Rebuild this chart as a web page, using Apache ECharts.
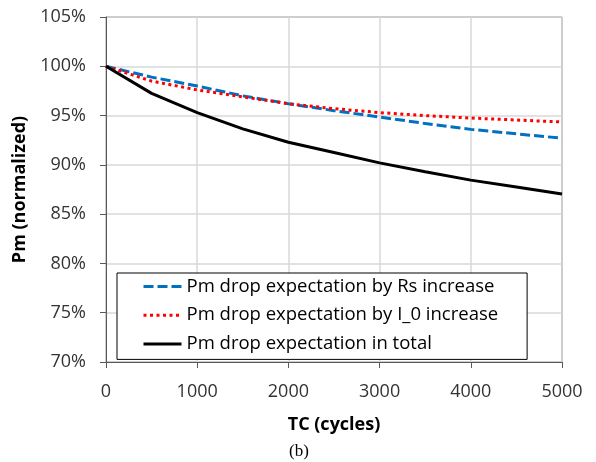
<!DOCTYPE html>
<html>
<head>
<meta charset="utf-8">
<script src="https://cdn.jsdelivr.net/npm/echarts@6/dist/echarts.min.js"></script>
<style>
  html, body { margin: 0; padding: 0; background: #fff; }
  #main { width: 596px; height: 462px; }
</style>
</head>
<body>
<div id="main"></div>
<script>
// TC cycles
var cycles = [0, 500, 1000, 1500, 2000, 2500, 3000, 3500, 4000, 4500, 5000];
// Pm normalized, %
var byRs = [100, 98.9, 98.0, 97.0, 96.2, 95.5, 94.85, 94.2, 93.6, 93.15, 92.7];
var byI0 = [100, 98.5, 97.6, 96.9, 96.2, 95.7, 95.3, 95.0, 94.75, 94.55, 94.35];
var total = [100, 97.25, 95.3, 93.65, 92.3, 91.25, 90.2, 89.3, 88.45, 87.75, 87.05];
var seriesNames = [
  'Pm drop expectation by Rs increase',
  'Pm drop expectation by I_0 increase',
  'Pm drop expectation in total'
];

function pairs(ys) {
  return cycles.map(function (c, i) { return [c, ys[i]]; });
}

var font = '"Open Sans", Lato, sans-serif';
var myChart = echarts.init(document.getElementById('main'));
myChart.setOption({
  animation: false,
  title: {
    text: '(b)',
    left: 294,
    top: 438,
    textAlign: 'center',
    textStyle: { fontFamily: '"Liberation Serif", serif', fontSize: 17, fontWeight: 'normal', color: '#000' }
  },
  grid: {
    left: 106, right: 34, top: 17, bottom: 100,
    show: true, borderColor: '#595959', borderWidth: 1
  },
  legend: {
    orient: 'vertical',
    left: 117,
    top: 273,
    padding: [4, 29, 6, 25],
    itemWidth: 38,
    itemHeight: 14,
    itemGap: 9.7,
    borderColor: '#000',
    borderWidth: 1,
    backgroundColor: '#fff',
    itemStyle: { opacity: 0 },
    lineStyle: { width: 3 },
    textStyle: { fontFamily: font, fontSize: 18.5, lineHeight: 18, color: '#000' },
    data: seriesNames
  },
  xAxis: {
    type: 'value',
    min: 0, max: 5000, interval: 1000,
    name: 'TC (cycles)',
    nameLocation: 'middle',
    nameGap: 54,
    nameTextStyle: { fontFamily: font, fontSize: 18, fontWeight: 'bold', color: '#000' },
    axisLine: { lineStyle: { color: '#595959', width: 1 } },
    axisTick: { show: true, length: 6, lineStyle: { color: '#595959' } },
    axisLabel: {
      fontFamily: font, fontSize: 18, color: '#333', margin: 21,
      formatter: function (v) { return String(v); }
    },
    splitLine: { show: true, lineStyle: { color: '#d9d9d9', width: 1.5 } }
  },
  yAxis: {
    type: 'value',
    min: 70, max: 105, interval: 5,
    name: 'Pm (normalized)',
    nameLocation: 'middle',
    nameGap: 67,
    nameTextStyle: { fontFamily: font, fontSize: 18, fontWeight: 'bold', color: '#000' },
    axisLine: { show: true, lineStyle: { color: '#595959', width: 1 } },
    axisTick: { show: true, length: 6, lineStyle: { color: '#595959' } },
    axisLabel: { fontFamily: font, fontSize: 18, color: '#333', margin: 20, formatter: '{value}%' },
    splitLine: { show: true, lineStyle: { color: '#d9d9d9', width: 1.5 } }
  },
  series: [
    {
      name: seriesNames[0], type: 'line', data: pairs(byRs),
      showSymbol: false, symbol: 'none', z: 3,
      lineStyle: { color: '#0070C0', width: 3, type: [10, 4] },
      itemStyle: { color: '#0070C0' }
    },
    {
      name: seriesNames[1], type: 'line', data: pairs(byI0),
      showSymbol: false, symbol: 'none', z: 4,
      lineStyle: { color: '#FF0000', width: 3, type: [3, 3.5] },
      itemStyle: { color: '#FF0000' }
    },
    {
      name: seriesNames[2], type: 'line', data: pairs(total),
      showSymbol: false, symbol: 'none', z: 5,
      lineStyle: { color: '#000', width: 3 },
      itemStyle: { color: '#000' }
    }
  ]
});
</script>
</body>
</html>
